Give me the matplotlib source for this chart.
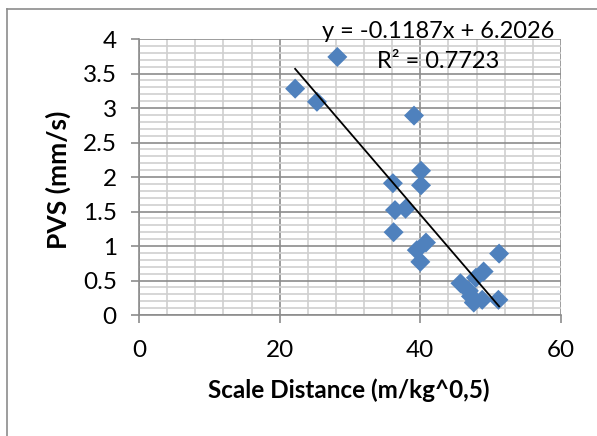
import numpy as np
import matplotlib.pyplot as plt
from matplotlib.ticker import MultipleLocator
from matplotlib.lines import Line2D

# scaled distance vs peak vector sum
scale_dist = [22.2, 25.3, 28.2, 39.1, 40.1, 36.1, 40.1, 36.4, 37.9, 36.2,
              40.8, 39.5, 40.0, 51.2, 45.7, 49.0, 47.9, 46.9, 47.2, 47.6,
              48.8, 51.1]
pvs = [3.28, 3.09, 3.74, 2.89, 2.09, 1.91, 1.88, 1.52, 1.54, 1.20,
       1.05, 0.94, 0.77, 0.89, 0.46, 0.63, 0.54, 0.35, 0.27, 0.18,
       0.22, 0.22]

# linear trendline y = a*x + b
slope = -0.1187
intercept = 6.2026
r2 = 0.7723

plt.rcParams['font.family'] = ['Lato', 'DejaVu Sans']

fig = plt.figure(figsize=(5.97, 4.36), dpi=100)
ax = fig.add_axes([139 / 597, 1 - 315 / 436, 422 / 597, 276 / 436])

ax.set_axisbelow(True)
ax.scatter(scale_dist, pvs, marker='D', s=10.2 ** 2, color='#4f81bd',
           edgecolors='none', zorder=3)

xs = np.array([min(scale_dist), max(scale_dist)])
ax.plot(xs, slope * xs + intercept, color='black', lw=1.3, zorder=4)

ax.set_xlim(0, 60)
ax.set_ylim(0, 4)
ax.xaxis.set_major_locator(MultipleLocator(20))
ax.xaxis.set_minor_locator(MultipleLocator(4))
ax.yaxis.set_minor_locator(MultipleLocator(0.1))
ax.set_yticks(np.arange(0, 4.01, 0.5))
ax.set_yticklabels(['0', '0.5', '1', '1.5', '2', '2.5', '3', '3.5', '4'])

ax.grid(which='minor', color='#cfcfcf', lw=1.2)
ax.grid(which='major', color='#8c8c8c', lw=1.2)

for side in ['top', 'right']:
    ax.spines[side].set_visible(False)
for side in ['left', 'bottom']:
    ax.spines[side].set_color('#8c8c8c')
    ax.spines[side].set_linewidth(1.2)

ax.tick_params(which='major', length=6, width=1.2, color='#8c8c8c',
               labelsize=17.5, labelcolor='black')
ax.tick_params(axis='x', which='major', pad=12)
ax.tick_params(axis='y', which='major', pad=10)
ax.tick_params(which='minor', length=0)

ax.set_xlabel('Scale Distance (m/kg^0,5)', fontsize=17.5, fontweight='bold')
ax.set_ylabel('PVS (mm/s)', fontsize=19, fontweight='bold')
ax.xaxis.set_label_coords(349 / 597, 1 - 390 / 436, transform=fig.transFigure)
ax.yaxis.set_label_coords(58 / 597, 1 - 180 / 436, transform=fig.transFigure)
ax.xaxis.label.set_va('center')
ax.yaxis.label.set_va('center')

ax.text(438.6 / 597, 1 - 31 / 436, f'y = {slope:.4f}x + {intercept:.4f}',
        transform=fig.transFigure, ha='center', va='center', fontsize=17)
ax.text(438.6 / 597, 1 - 62 / 436, f'R² = {r2:.4f}',
        transform=fig.transFigure, ha='center', va='center', fontsize=17)

# outer chart border
fig.add_artist(Line2D([7 / 597, 7 / 597], [0, 1 - 9 / 436],
                      transform=fig.transFigure, color='#8c8c8c', lw=1.2))
fig.add_artist(Line2D([7 / 597, 1], [1 - 9 / 436, 1 - 9 / 436],
                      transform=fig.transFigure, color='#8c8c8c', lw=1.2))

plt.savefig('out.png', dpi=100)
